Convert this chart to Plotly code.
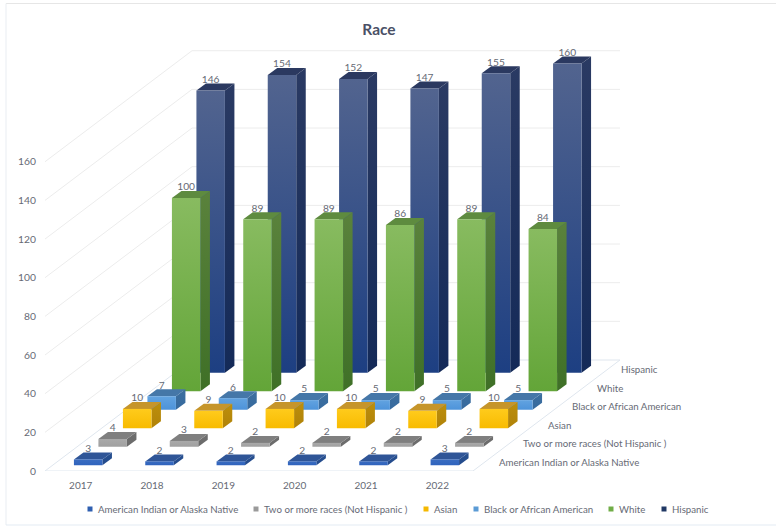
import plotly.graph_objects as go

# ---- data -------------------------------------------------------------
years = ["2017", "2018", "2019", "2020", "2021", "2022"]
series_names = ["American Indian or Alaska Native", "Two or more races (Not Hispanic )", "Asian",
                "Black or African American", "White", "Hispanic"]
american_indian = [3, 2, 2, 2, 2, 3]
two_or_more = [4, 3, 2, 2, 2, 2]
asian = [10, 9, 10, 10, 9, 10]
black = [7, 6, 5, 5, 5, 5]
white = [100, 89, 89, 86, 89, 84]
hispanic = [146, 154, 152, 147, 155, 160]
series_values = [american_indian, two_or_more, asian, black, white, hispanic]
y_ticks = [0, 20, 40, 60, 80, 100, 120, 140, 160]

# ---- styles: front top, front bottom, side top, side bottom, top face, legend --
styles = [
    ("#3a6cc0", "#2f63bd", "#27508f", "#234a8c", "#2f5597", "#2f5fb0"),
    ("#a9a9a9", "#a0a0a0", "#6f6f6f", "#6a6a6a", "#7f7f7f", "#9a9a9a"),
    ("#ffcb1c", "#f8bb00", "#bd8f0c", "#b08208", "#c6952a", "#f5b800"),
    ("#62a3e0", "#4d93da", "#3d6f9f", "#366a9e", "#4577a8", "#5b9bd5"),
    ("#88bb60", "#63a538", "#5a823c", "#3f7027", "#5e8b3f", "#70ad47"),
    ("#52648f", "#1d3f82", "#2a3a63", "#142a58", "#2b3960", "#203864"),
]
TEXT = "#666a75"
GRID = "#ececec"
FLOOR = "#dfe6ee"
FONT = "Lato, 'Open Sans', sans-serif"
FS = 9.7

# ---- oblique projection ----------------------------------------------
W, H = 776, 527
L, B = 45, 56
PX_CAT, PX_VAL = 71.33, 1.933
DX, DY = 24.5 / PX_CAT, 18.5 / PX_VAL      # shift per series row
HALF_W = 14.25 / PX_CAT
HALF_DX, HALF_DY = 4.75 / PX_CAT, 3.5 / PX_VAL
n_cat, n_ser = len(years), len(series_names)
x0, x1 = -0.5, n_cat - 0.5


def proj(cat, depth, val):
    """cat: category position; depth: distance from the floor's front edge, in rows; val: height."""
    return cat + depth * DX, val + depth * DY


def poly(points):
    xs, ys = zip(*points)
    return list(xs) + [xs[0]], list(ys) + [ys[0]]


def paper_x(px):
    return (px - L) / (W - L)


def paper_y(py):
    return (H - B - py) / (H - B)


fig = go.Figure()


def face(points, c1, c2=None):
    x, y = poly(points)
    kw = dict(fillcolor=c1)
    if c2:
        kw = dict(fillgradient=dict(type="vertical", colorscale=[[0, c2], [1, c1]]))
    fig.add_trace(go.Scatter(x=x, y=y, mode="lines", fill="toself", line=dict(width=0),
                             hoverinfo="skip", showlegend=False, **kw))


# walls and floor
for v in y_ticks[1:]:
    pts = [proj(x0, 0, v), proj(x0, n_ser, v), proj(x1, n_ser, v)]
    fig.add_trace(go.Scatter(x=[p[0] for p in pts], y=[p[1] for p in pts], mode="lines",
                             line=dict(color=GRID, width=1), hoverinfo="skip", showlegend=False))
floor = [proj(x1, 0, 0), proj(x0, 0, 0), proj(x0, n_ser, 0), proj(x1, n_ser, 0), proj(x1, 0, 0)]
fig.add_trace(go.Scatter(x=[p[0] for p in floor], y=[p[1] for p in floor], mode="lines", cliponaxis=False,
                         line=dict(color=FLOOR, width=1), hoverinfo="skip", showlegend=False))

# bars, back row first
for j in reversed(range(n_ser)):
    ft, fb, st, sb, tp, _ = styles[j]
    lx, ly, lt = [], [], []
    for i, v in enumerate(series_values[j]):
        cx, by = proj(i, j + 0.5, 0)
        fx0, fx1 = cx - HALF_DX - HALF_W, cx - HALF_DX + HALF_W
        fy0, fy1 = by - HALF_DY, by - HALF_DY + v
        ox, oy = 2 * HALF_DX, 2 * HALF_DY
        face([(fx1, fy0), (fx1 + ox, fy0 + oy), (fx1 + ox, fy1 + oy), (fx1, fy1)], st, sb)
        face([(fx0, fy1), (fx1, fy1), (fx1 + ox, fy1 + oy), (fx0 + ox, fy1 + oy)], tp)
        face([(fx0, fy0), (fx1, fy0), (fx1, fy1), (fx0, fy1)], ft, fb)
        lx.append(cx - HALF_DX)
        ly.append(fy1 + oy - 1)
        lt.append(str(v))
    fig.add_trace(go.Scatter(x=lx, y=ly, text=lt, mode="text", textposition="top center",
                             textfont=dict(size=FS + 0.5, color=TEXT, family=FONT),
                             cliponaxis=False, hoverinfo="skip", showlegend=False))

annotations = []
shapes = []

# row labels beside the floor
for j, name in enumerate(series_names):
    ax, ay = proj(x1, j + 0.5, 0)
    annotations.append(dict(x=ax, y=ay, text=name, xref="x", yref="y", xanchor="left", yanchor="middle",
                            xshift=11.5, showarrow=False, font=dict(size=FS, color=TEXT, family=FONT)))

# legend row under the plot (swatch centre pixels)
legend_px = [90, 256, 426, 476, 611, 664]
LEG_Y = 509
for j, name in enumerate(series_names):
    cx = legend_px[j]
    shapes.append(dict(type="rect", xref="paper", yref="paper", line=dict(width=0), fillcolor=styles[j][5],
                       x0=paper_x(cx - 2.5), x1=paper_x(cx + 2.5), y0=paper_y(LEG_Y + 2.5), y1=paper_y(LEG_Y - 2.5)))
    annotations.append(dict(x=paper_x(cx + 5.5), y=paper_y(LEG_Y), text=name, xref="paper", yref="paper",
                            xanchor="left", yanchor="middle", showarrow=False,
                            font=dict(size=FS, color=TEXT, family=FONT)))

# outer frame (no right edge)
shapes += [
    dict(type="line", xref="paper", yref="paper", line=dict(color="#e6e6e6", width=1),
         x0=paper_x(6), x1=1, y0=paper_y(3.5), y1=paper_y(3.5)),
    dict(type="line", xref="paper", yref="paper", line=dict(color="#e9edf2", width=1),
         x0=paper_x(6), x1=paper_x(6), y0=paper_y(525), y1=paper_y(3.5)),
    dict(type="line", xref="paper", yref="paper", line=dict(color="#e3ebf3", width=1),
         x0=paper_x(6), x1=1, y0=paper_y(525), y1=paper_y(525)),
]

R_X = x0 + (W - L) / PX_CAT
T_Y = (H - B) / PX_VAL

fig.update_layout(
    width=W, height=H, margin=dict(l=L, r=0, t=0, b=B, pad=0, autoexpand=False),
    paper_bgcolor="white", plot_bgcolor="white", showlegend=False,
    title=dict(text="<b>Race</b>", x=379 / W, xanchor="center", y=1 - 30 / H, yanchor="middle",
               font=dict(size=15.5, color="#4a5066", family=FONT)),
    xaxis=dict(range=[x0, R_X], tickmode="array", tickvals=list(range(n_cat)), ticktext=years,
               showgrid=False, zeroline=False, showline=False, ticks="", ticklabelstandoff=7,
               tickfont=dict(size=FS + 0.3, color=TEXT, family=FONT)),
    yaxis=dict(range=[0, T_Y], tickmode="array", tickvals=y_ticks, showgrid=False, zeroline=False,
               showline=False, ticks="", ticklabelstandoff=8,
               tickfont=dict(size=FS + 0.6, color=TEXT, family=FONT)),
    annotations=annotations,
    shapes=shapes,
)
fig.write_html("out.html", config={"displayModeBar": False},
               post_script="document.body.style.margin='0';document.body.style.overflow='hidden';")
